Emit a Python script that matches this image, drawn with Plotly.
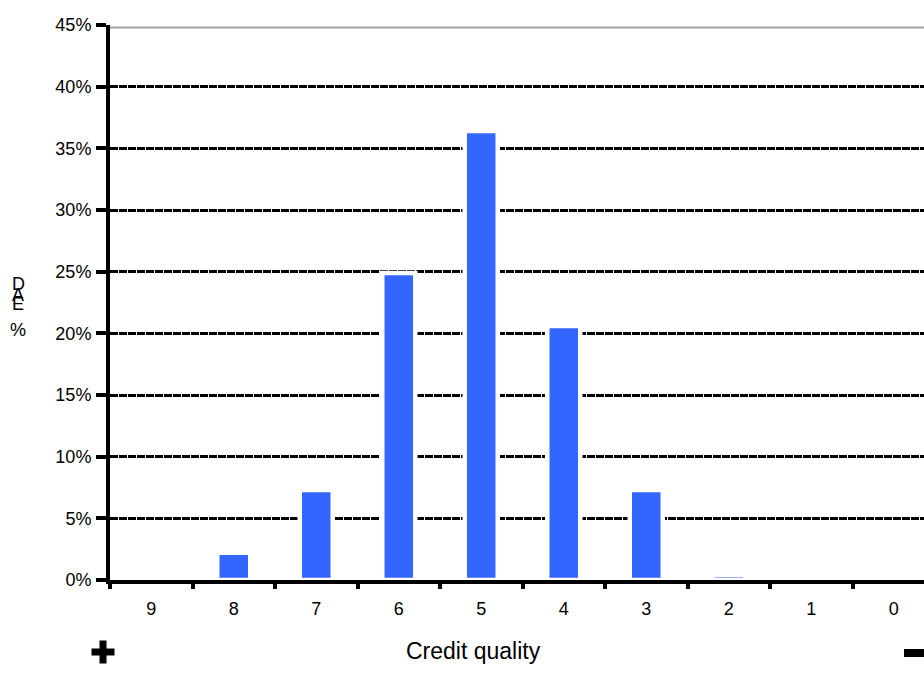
import plotly.graph_objects as go

categories = ["9", "8", "7", "6", "5", "4", "3", "2", "1", "0"]
dae_share = [0.0, 0.022, 0.073, 0.249, 0.364, 0.206, 0.073, 0.004, 0.0, 0.0]
y_tick_vals = [0, 0.05, 0.10, 0.15, 0.20, 0.25, 0.30, 0.35, 0.40, 0.45]
y_title_letters = ["D", "A", "E", "%"]
x_title = "Credit quality"

# body margin is removed in the page, so figure pixels == page pixels
W, H = 924, 691
PLOT_TOP, PLOT_BOTTOM, PLOT_LEFT = 25, 580, 110
ML, MR = PLOT_LEFT, 0
MT = PLOT_TOP
MB = H - PLOT_BOTTOM
PW = W - ML - MR
PH = H - MT - MB
CAT_W = 82.5
FONT = "Liberation Sans, Arial, sans-serif"


def px(x):
    return (x - ML) / PW


def py(y):
    return (H - MB - y) / PH


fig = go.Figure()
fig.add_trace(go.Bar(
    x=categories, y=dae_share,
    width=0.4,
    marker=dict(color="#3366FF", line=dict(color="white", width=4.5)),
    hoverinfo="skip",
))

fig.update_layout(
    width=W, height=H,
    margin=dict(l=ML, r=MR, t=MT, b=MB),
    paper_bgcolor="white", plot_bgcolor="white",
    showlegend=False,
    font=dict(family=FONT, color="black"),
    bargap=0.6,
)
fig.update_xaxes(
    type="category",
    range=[-0.5, -0.5 + PW / CAT_W],
    tickson="boundaries",
    ticks="outside", ticklen=5, tickwidth=4, tickcolor="black",
    showline=True, linecolor="black", linewidth=4,
    showgrid=False, zeroline=False,
    tickfont=dict(size=18, family=FONT),
    ticklabelstandoff=9,
)
fig.update_yaxes(
    range=[0, 0.45],
    tickvals=y_tick_vals, tickformat=".0%",
    ticks="outside", ticklen=10, tickwidth=4, tickcolor="black",
    showline=True, linecolor="black", linewidth=4,
    showgrid=True, gridcolor="black", gridwidth=3, griddash="8px,1px",
    zeroline=False,
    tickfont=dict(size=18, family=FONT),
    ticklabelstandoff=1,
)

# gray top border of plot area, just under the 45% grid line
fig.add_shape(type="line", xref="paper", yref="y", x0=0, x1=1,
              y0=0.44795, y1=0.44795, line=dict(color="#a0a0a0", width=2), layer="below")

# stacked y title letters
letter_y = [284, 295, 304, 330]
for ch, yy in zip(y_title_letters, letter_y):
    fig.add_annotation(text=ch, xref="paper", yref="paper", x=px(18), y=py(yy),
                       showarrow=False, xanchor="center", yanchor="middle",
                       font=dict(size=18, family=FONT, color="black"))

fig.add_annotation(text=x_title, xref="paper", yref="paper", x=px(473), y=py(651),
                   showarrow=False, xanchor="center", yanchor="middle",
                   font=dict(size=23, family=FONT, color="black"))

# plus sign
cx, cy, arm, th = 103, 652, 11.5, 3.5
fig.add_shape(type="rect", xref="paper", yref="paper", x0=px(cx - arm), x1=px(cx + arm),
              y0=py(cy + th), y1=py(cy - th), fillcolor="black", line=dict(width=0))
fig.add_shape(type="rect", xref="paper", yref="paper", x0=px(cx - th), x1=px(cx + th),
              y0=py(cy + arm), y1=py(cy - arm), fillcolor="black", line=dict(width=0))
# minus sign
mx, my = 914, 653
fig.add_shape(type="rect", xref="paper", yref="paper", x0=px(mx - 10), x1=px(mx + 10),
              y0=py(my + 4), y1=py(my - 4), fillcolor="black", line=dict(width=0))

fig.write_html(
    "out.html",
    config={"displayModeBar": False},
    post_script="document.body.style.margin='0';document.body.style.overflow='hidden';",
)
